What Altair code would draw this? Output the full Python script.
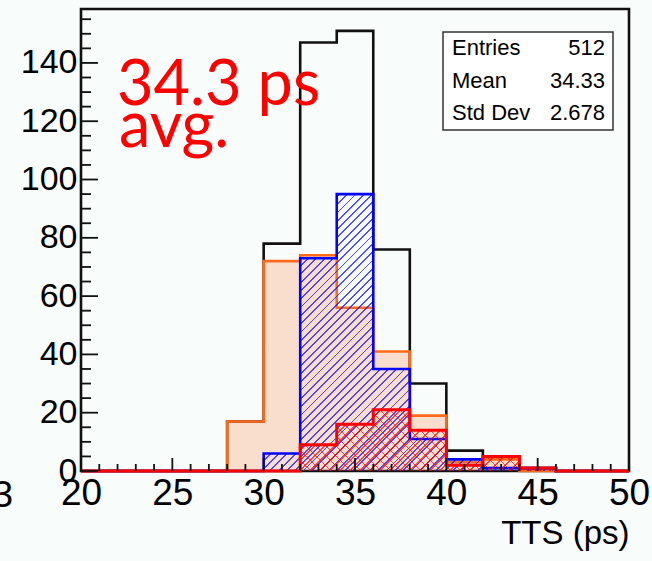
import altair as alt
import pandas as pd

# ---------------- data ----------------
edges = [20, 22, 24, 26, 28, 30, 32, 34, 36, 38, 40, 42, 44, 46, 48, 50]
h_black = [0, 0, 0, 0, 17, 78, 147, 151, 76, 30, 7, 5, 1, 0, 0]
h_orange = [0, 0, 0, 0, 17, 72, 74, 56, 41, 19, 3, 4, 0, 0, 0]
h_blue = [0, 0, 0, 0, 0, 6, 73, 95, 35, 11, 4, 1, 1, 0, 0]
h_red = [0, 0, 0, 0, 0, 0, 9, 16, 21, 14, 2, 5, 1, 0, 0]

x_major = [20, 25, 30, 35, 40, 45, 50]
x_minor = [21, 22, 23, 24, 26, 27, 28, 29, 31, 32, 33, 34, 36, 37, 38, 39,
           41, 42, 43, 44, 46, 47, 48, 49]
y_major = [0, 20, 40, 60, 80, 100, 120, 140]
y_minor = [5, 10, 15, 25, 30, 35, 45, 50, 55, 65, 70, 75, 85, 90, 95,
           105, 110, 115, 125, 130, 135, 145, 150, 155]

stat_names = ["Entries", "Mean", "Std Dev"]
stat_values = ["512", "34.33", "2.678"]
note_lines = ["34.3 ps", "avg."]

# ---------------- layout / style ----------------
X_MIN, X_MAX, Y_MAX = 20, 50, 158.5
W, H = 548, 462
PX_X = W / (X_MAX - X_MIN)
PX_Y = H / Y_MAX
FONT = "Liberation Sans"

BLACK = "#111111"
ORANGE = "#ff6a1a"
BLUE = "#0000ff"
RED = "#ff0000"

xs = alt.Scale(domain=[X_MIN, X_MAX], nice=False, zero=False)
ys = alt.Scale(domain=[0, Y_MAX], nice=False, zero=False)

x_axis = alt.Axis(values=x_major, ticks=False, domain=False, grid=False,
                  labelFontSize=37, labelFont=FONT, labelColor="black",
                  labelPadding=4, labelFlush=False, labelOverlap=False,
                  title="TTS (ps)", titleFont=FONT, titleFontSize=33,
                  titleFontWeight="normal", titleColor="black",
                  titleAnchor="end", titlePadding=6)
y_axis = alt.Axis(values=y_major, ticks=False, domain=False, grid=False,
                  labelFontSize=34, labelFont=FONT, labelColor="black",
                  labelPadding=4, labelFlush=False, labelOverlap=False,
                  title=None)


def X(field):
    return alt.X(f"{field}:Q", scale=xs, axis=x_axis)


def Y(field):
    return alt.Y(f"{field}:Q", scale=ys, axis=y_axis)


def step_df(vals):
    return pd.DataFrame({"x": edges, "y": vals + [vals[-1]]})


def fill_df(vals):
    nz = [i for i, v in enumerate(vals) if v > 0]
    i0, i1 = nz[0], nz[-1]
    part = vals[i0:i1 + 1]
    return pd.DataFrame({"x": edges[i0:i1 + 2], "y": part + [part[-1]]}), \
        (edges[i1 + 1] - edges[i0]) * PX_X, max(part) * PX_Y


def hatch(color, period, lw, bw, bh, direction):
    r = bh / bw
    s = (bw + bh) / (bw * (1 + r * r))
    if direction == "/":
        x1, y1, x2, y2 = 0, 0, s, s * r
    else:
        x1, y1, x2, y2 = 0, 1, s, 1 - s * r
    L = bw + bh
    off = "rgba(255,255,255,0)"
    stops = []
    k = 0
    while k * period < L:
        a = k * period / L
        b = min((k * period + lw) / L, 1.0)
        stops += [alt.GradientStop(color=off, offset=a),
                  alt.GradientStop(color=color, offset=a),
                  alt.GradientStop(color=color, offset=b),
                  alt.GradientStop(color=off, offset=b)]
        k += 1
    return alt.Gradient(gradient="linear", stops=stops, x1=x1, y1=y1, x2=x2, y2=y2)


def step_line(vals, color, sw):
    return alt.Chart(step_df(vals)).mark_line(
        interpolate="step-after", color=color, strokeWidth=sw
    ).encode(x=X("x"), y=Y("y"))


def flat_fill(vals, color, op):
    df, _, _ = fill_df(vals)
    return alt.Chart(df).mark_area(
        interpolate="step-after", color=color, fillOpacity=op, strokeWidth=0
    ).encode(x=X("x"), y=Y("y"), y2=alt.datum(0))


def hatch_fill(vals, color, period, lw, direction):
    df, bw, bh = fill_df(vals)
    return alt.Chart(df).mark_area(
        interpolate="step-after", fill=hatch(color, period, lw, bw, bh, direction),
        strokeWidth=0
    ).encode(x=X("x"), y=Y("y"), y2=alt.datum(0))


layers = []
# black histogram (outline only)
layers.append(step_line(h_black, BLACK, 2.6))
# orange (dotted fill -> light tone)
layers.append(flat_fill(h_orange, ORANGE, 0.2))
layers.append(step_line(h_orange, ORANGE, 2.6))
# blue (diagonal hatch)
layers.append(hatch_fill(h_blue, "rgba(20,20,255,0.75)", 8.3, 1.8, "/"))
layers.append(step_line(h_blue, BLUE, 2.6))
# red (cross hatch)
layers.append(hatch_fill(h_red, "rgba(255,0,0,0.7)", 10.0, 1.8, "/"))
layers.append(hatch_fill(h_red, "rgba(255,0,0,0.7)", 10.0, 1.8, "\\"))
layers.append(step_line(h_red, RED, 3.0))

# inside ticks
layers.append(alt.Chart(pd.DataFrame({"v": x_major})).mark_rule(color=BLACK, strokeWidth=1.8)
              .encode(x=X("v"), y=alt.value(H), y2=alt.value(H - 13)))
layers.append(alt.Chart(pd.DataFrame({"v": x_minor})).mark_rule(color=BLACK, strokeWidth=1.8)
              .encode(x=X("v"), y=alt.value(H), y2=alt.value(H - 7)))
layers.append(alt.Chart(pd.DataFrame({"v": y_major})).mark_rule(color=BLACK, strokeWidth=1.8)
              .encode(y=Y("v"), x=alt.value(0), x2=alt.value(17)))
layers.append(alt.Chart(pd.DataFrame({"v": y_minor})).mark_rule(color=BLACK, strokeWidth=1.8)
              .encode(y=Y("v"), x=alt.value(0), x2=alt.value(10)))

# stats box
layers.append(alt.Chart().mark_rect(fill="white", stroke="#333333", strokeWidth=1.5)
              .encode(x=alt.value(362), x2=alt.value(532), y=alt.value(23), y2=alt.value(121)))
for i, (nm, val) in enumerate(zip(stat_names, stat_values)):
    yb = 46 + i * 32.5
    layers.append(alt.Chart().mark_text(align="left", baseline="alphabetic", font=FONT,
                                        fontSize=22, color="black")
                  .encode(x=alt.value(371), y=alt.value(yb), text=alt.value(nm)))
    layers.append(alt.Chart().mark_text(align="right", baseline="alphabetic", font=FONT,
                                        fontSize=22, color="black")
                  .encode(x=alt.value(524), y=alt.value(yb), text=alt.value(val)))

# red annotation
for i, line in enumerate(note_lines):
    layers.append(alt.Chart().mark_text(align="left", baseline="alphabetic", font="Lato",
                                        fontWeight=400, fontSize=63, color=RED)
                  .encode(x=alt.value(36 + 2 * i), y=alt.value(96 + 42 * i), text=alt.value(line)))

# stray label fragment at far left
layers.append(alt.Chart().mark_text(align="right", baseline="alphabetic", font=FONT,
                                    fontSize=37, color="black")
              .encode(x=alt.value(-68), y=alt.value(H + 36), text=alt.value("3")))

chart = alt.layer(*layers).properties(
    width=W, height=H,
    padding={"left": 81, "top": 9, "right": 23, "bottom": 90},
    autosize=alt.AutoSizeParams(type="none"),
    background="#f8fcfb",
).configure_view(stroke=BLACK, strokeWidth=2.6)

chart.save("out.html", embed_options={"renderer": "svg", "actions": False})
